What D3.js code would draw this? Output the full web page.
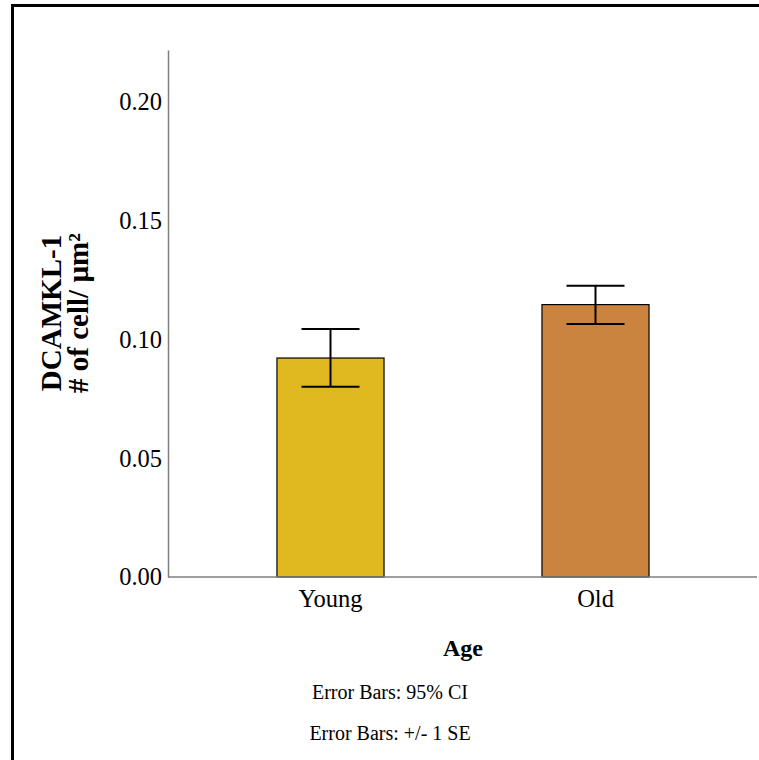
<!DOCTYPE html>
<html>
<head>
<meta charset="utf-8">
<script src="https://cdn.jsdelivr.net/npm/d3@7"></script>
<style>
  html, body { margin: 0; background: #fff; overflow: hidden; }
  svg { display: block; overflow: hidden; }
  text { font-family: "Liberation Serif", "Times New Roman", serif; fill: #000; }
</style>
</head>
<body>
<svg width="759" height="760"></svg>
<script>
// data
const groups = ['Young', 'Old'];
const means = [0.0922, 0.1147];
const ciLow = [0.0801, 0.1065];
const ciHigh = [0.1044, 0.1226];
const barColors = ['#dfb91f', '#cb8340'];
const yTicks = [0, 0.05, 0.10, 0.15, 0.20];
const footnotes = ['Error Bars: 95% CI', 'Error Bars: +/- 1 SE'];

const svg = d3.select('svg');

// outer frame, only left and top edges are in view in the screenshot
svg.append('path')
  .attr('d', 'M12.5,800V5.5H800')
  .attr('fill', 'none')
  .attr('stroke', '#000')
  .attr('stroke-width', 3);

const plot = { left: 168, right: 757, top: 50, bottom: 577 };

const y = d3.scaleLinear()
  .domain([0, 0.2219])
  .range([plot.bottom, plot.top]);

const x = d3.scaleBand()
  .domain(groups)
  .range([198, 728])
  .paddingInner(0.596)
  .paddingOuter(0.298);

const data = groups.map((g, i) => ({ g: g, mean: means[i], lo: ciLow[i], hi: ciHigh[i], color: barColors[i] }));

// y axis
const yAxis = svg.append('g')
  .attr('transform', 'translate(' + plot.left + ',0)')
  .call(d3.axisLeft(y).tickValues(yTicks).tickFormat(d3.format('.2f')).tickSize(0).tickPadding(6));
yAxis.select('.domain').attr('stroke', '#7f7f7f').attr('stroke-width', 1.5);
yAxis.selectAll('text').style('font-size', '24.5px').style('font-family', '"Liberation Serif", serif');

// bars
svg.selectAll('.bar')
  .data(data)
  .enter().append('rect')
  .attr('class', 'bar')
  .attr('x', d => x(d.g))
  .attr('y', d => y(d.mean))
  .attr('width', x.bandwidth())
  .attr('height', d => y(0) - y(d.mean))
  .attr('fill', d => d.color)
  .attr('stroke', '#000')
  .attr('stroke-width', 1.2);

// x axis (drawn after bars so baseline sits on top)
const xAxis = svg.append('g')
  .attr('transform', 'translate(0,' + plot.bottom + ')')
  .call(d3.axisBottom(x).tickSize(0).tickPadding(13));
xAxis.select('.domain')
  .attr('d', 'M' + plot.left + ',0H' + plot.right)
  .attr('stroke', '#7f7f7f').attr('stroke-width', 1.5);
xAxis.selectAll('text').style('font-size', '24.5px').style('font-family', '"Liberation Serif", serif');

// error bars
const capHalf = 29;
const eb = svg.selectAll('.err')
  .data(data)
  .enter().append('g')
  .attr('class', 'err')
  .attr('stroke', '#000')
  .attr('stroke-width', 2);
eb.append('line')
  .attr('x1', d => x(d.g) + x.bandwidth() / 2)
  .attr('x2', d => x(d.g) + x.bandwidth() / 2)
  .attr('y1', d => y(d.lo))
  .attr('y2', d => y(d.hi));
eb.append('line')
  .attr('x1', d => x(d.g) + x.bandwidth() / 2 - capHalf)
  .attr('x2', d => x(d.g) + x.bandwidth() / 2 + capHalf)
  .attr('y1', d => y(d.hi))
  .attr('y2', d => y(d.hi));
eb.append('line')
  .attr('x1', d => x(d.g) + x.bandwidth() / 2 - capHalf)
  .attr('x2', d => x(d.g) + x.bandwidth() / 2 + capHalf)
  .attr('y1', d => y(d.lo))
  .attr('y2', d => y(d.lo));

// axis titles
svg.append('text')
  .attr('x', 463).attr('y', 656)
  .attr('text-anchor', 'middle')
  .style('font-size', '24px')
  .style('font-weight', 'bold')
  .text('Age');

const yTitle = svg.append('text')
  .attr('transform', 'translate(61,313) rotate(-90)')
  .attr('text-anchor', 'middle')
  .style('font-size', '29px')
  .style('font-weight', 'bold');
yTitle.append('tspan').attr('x', 0).attr('y', 0).text('DCAMKL-1');
yTitle.append('tspan').attr('x', 0).attr('y', 27).text('# of cell/ µm²');

// footnotes
svg.selectAll('.foot')
  .data(footnotes)
  .enter().append('text')
  .attr('class', 'foot')
  .attr('x', 390)
  .attr('y', (d, i) => 699 + i * 41)
  .attr('text-anchor', 'middle')
  .style('font-size', '20px')
  .text(d => d);
</script>
</body>
</html>
